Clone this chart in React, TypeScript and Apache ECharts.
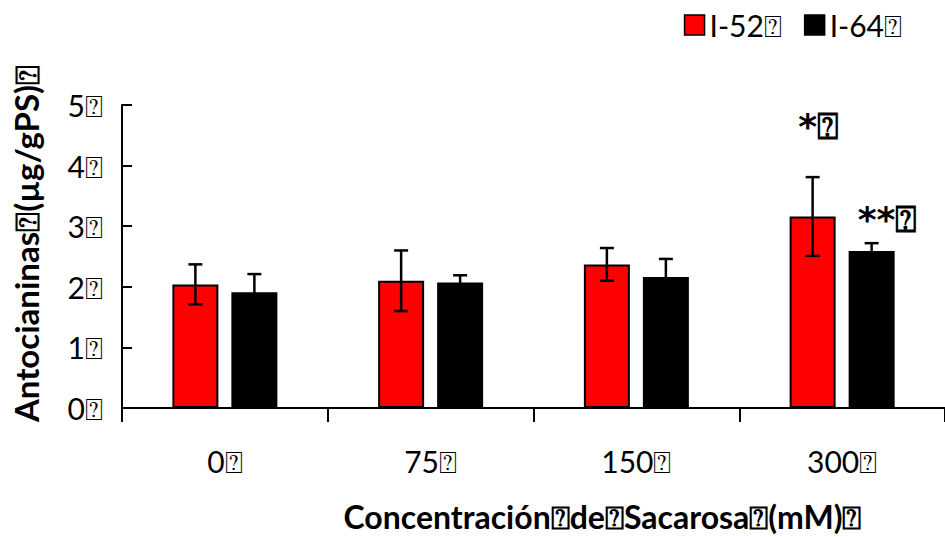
import React, { useEffect, useRef } from "react";
import * as echarts from "echarts";

const BOX = "\u2370";
const categories = ["0", "75", "150", "300"];
const seriesNames = ["I-52", "I-64"];
const valuesI52 = [2.04, 2.1, 2.37, 3.16];
const errI52 = [0.33, 0.5, 0.27, 0.65];
const valuesI64 = [1.91, 2.07, 2.16, 2.59];
const errI64 = [0.3, 0.12, 0.3, 0.13];
const yTicks = [0, 1, 2, 3, 4, 5];
const marks = ["*", "**"];

const FONT = "Lato, 'Open Sans', sans-serif";
const BAR_W = 46;
const BAR_GAP = 13;

export default function App() {
  const ref = useRef<HTMLDivElement>(null);
  useEffect(() => {
    const chart = echarts.init(ref.current!, null, { renderer: "svg" });
    const errData: number[][] = [];
    valuesI52.forEach((v, i) => errData.push([i, v, errI52[i], 0]));
    valuesI64.forEach((v, i) => errData.push([i, v, errI64[i], 1]));
    const half = (BAR_W * 2 + BAR_GAP) / 2;
    const offsets = [-half + BAR_W / 2, half - BAR_W / 2];
    const markStyle = {
      fontSize: 36,
      fontWeight: "bold",
      color: "#000",
      fontFamily: "'DejaVu Sans', sans-serif",
    };
    chart.setOption({
      animation: false,
      backgroundColor: "#fff",
      textStyle: { fontFamily: FONT },
      legend: {
        right: 38,
        top: 5,
        icon: "rect",
        itemWidth: 20,
        itemHeight: 20,
        itemGap: 22,
        itemStyle: { borderColor: "#000", borderWidth: 1.5 },
        textStyle: { fontSize: 30, color: "#000", fontFamily: FONT },
        formatter: (n: string) => n + BOX,
        data: seriesNames,
      },
      grid: { left: 122, top: 105, width: 828, height: 306 },
      xAxis: {
        type: "category",
        data: categories,
        axisLine: { lineStyle: { color: "#000", width: 2 } },
        axisTick: { show: true, length: 14, lineStyle: { color: "#000", width: 2 } },
        axisLabel: { color: "#000", fontSize: 30, margin: 38, formatter: (v: string) => v + BOX },
        name: "Concentración" + BOX + "de" + BOX + "Sacarosa" + BOX + "(mM)" + BOX,
        nameLocation: "middle",
        nameGap: 92,
        nameTextStyle: { fontSize: 32, fontWeight: "bold", color: "#000", padding: [0, 0, 0, 138] },
      },
      yAxis: {
        type: "value",
        min: 0,
        max: 5,
        interval: 1,
        splitLine: { show: false },
        axisLine: { show: true, lineStyle: { color: "#000", width: 2 } },
        axisTick: { show: true, inside: true, length: 10, lineStyle: { color: "#000", width: 2 } },
        axisLabel: {
          color: "#000",
          fontSize: 30,
          margin: 19,
          formatter: (v: number) => (yTicks.includes(v) ? v + BOX : ""),
        },
        name: "Antocianinas" + BOX + "(µg/gPS)" + BOX,
        nameLocation: "middle",
        nameGap: 80,
        nameTextStyle: { fontSize: 33, fontWeight: "bold", color: "#000", padding: [0, 0, 0, 26] },
      },
      series: [
        {
          name: seriesNames[0],
          type: "bar",
          barWidth: BAR_W,
          barGap: (BAR_GAP / BAR_W) * 100 + "%",
          itemStyle: { color: "#ff0000", borderColor: "#000", borderWidth: 2 },
          data: valuesI52.map((v, i) =>
            i === 3
              ? {
                  value: v,
                  label: {
                    show: true,
                    position: "top",
                    distance: 72,
                    offset: [6, 0],
                    formatter: marks[0] + BOX,
                    ...markStyle,
                  },
                }
              : v
          ),
        },
        {
          name: seriesNames[1],
          type: "bar",
          barWidth: BAR_W,
          itemStyle: { color: "#000", borderColor: "#000", borderWidth: 2 },
          data: valuesI64.map((v, i) =>
            i === 3
              ? {
                  value: v,
                  label: {
                    show: true,
                    position: "top",
                    distance: 14,
                    offset: [16, 0],
                    formatter: marks[1] + BOX,
                    ...markStyle,
                  },
                }
              : v
          ),
        },
        {
          type: "custom",
          data: errData,
          z: 10,
          renderItem: (params: any, api: any) => {
            const idx = api.value(0);
            const v = api.value(1);
            const e = api.value(2);
            const s = api.value(3);
            const top = api.coord([idx, v + e]);
            const bot = api.coord([idx, v - e]);
            const x = top[0] + offsets[s];
            const cap = 7;
            const style = { stroke: "#000", lineWidth: 2.5 };
            return {
              type: "group",
              children: [
                { type: "line", shape: { x1: x, y1: top[1], x2: x, y2: bot[1] }, style },
                { type: "line", shape: { x1: x - cap, y1: top[1], x2: x + cap, y2: top[1] }, style },
                { type: "line", shape: { x1: x - cap, y1: bot[1], x2: x + cap, y2: bot[1] }, style },
              ],
            };
          },
        },
      ],
    });
    return () => chart.dispose();
  }, []);
  return <div ref={ref} style={{ width: 945, height: 537, position: "absolute", left: 0, top: 0 }} />;
}
